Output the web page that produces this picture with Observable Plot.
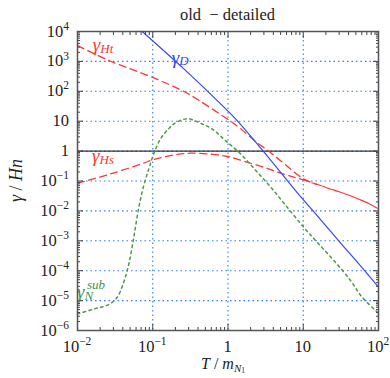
<!DOCTYPE html>
<html><head><meta charset="utf-8">
<script src="https://cdn.jsdelivr.net/npm/d3@7"></script>
<script src="https://cdn.jsdelivr.net/npm/@observablehq/plot@0.6"></script>
<style>body{margin:0;background:#fff} svg{display:block}</style>
</head><body><div id="chart"></div>
<script>
// ---- data ----
const dT = [0.0724, 0.259, 0.719, 1.26, 2.94, 7.89, 13.6, 29.6, 67.1, 100];
const dY = [1e4, 562, 49, 12.0, 1.0, 0.048, 0.0098, 0.001, 9.3e-5, 2.8e-5];

const htT = [0.01, 0.0261, 0.1, 0.272, 0.409, 1.08, 1.47, 2.44, 3.47, 4.99, 10.2, 15];
const htY = [3390, 1072, 290, 93, 50, 10, 5.6, 1.9, 1.0, 0.48, 0.115, 0.078];

const hT = [13, 17, 22, 30, 40, 55, 75, 100];
const hY = [0.087, 0.071, 0.056, 0.044, 0.034, 0.0245, 0.0174, 0.0117];

const hsT = [0.01, 0.0261, 0.0724, 0.103, 0.2, 0.316, 0.615, 1, 1.63, 2.99, 4.5, 7.48, 11.2];
const hsY = [0.085, 0.166, 0.38, 0.525, 0.76, 0.85, 0.78, 0.66, 0.457, 0.288, 0.20, 0.135, 0.102];

const nT = [0.01, 0.0173, 0.0261, 0.0337, 0.0412, 0.0481, 0.056, 0.0653, 0.076, 0.0887, 0.103, 0.127, 0.163, 0.19, 0.287, 0.454, 0.631, 0.927, 1.466, 2.44, 3.86, 6.12, 10.2, 15.3, 25.5, 42.5, 60.7, 100];
const nY = [3.6e-6, 5.4e-6, 7.4e-6, 1.29e-5, 4.2e-5, 1.7e-4, 1.32e-3, 0.0132, 0.071, 0.257, 0.81, 2.57, 5.6, 8.1, 12.0, 8.1, 5.25, 2.24, 0.81, 0.2, 0.055, 0.0132, 2.8e-3, 8.9e-4, 2.2e-4, 4.7e-5, 1.29e-5, 3.8e-6];

const xMajor = [0.01, 0.1, 1, 10, 100];
const yMajor = [1e-6, 1e-5, 1e-4, 1e-3, 1e-2, 1e-1, 1, 10, 100, 1e3, 1e4];
const xTickLabels = [["10","−2"],["10","−1"],["1",""],["10",""],["10","2"]];
const yTickLabels = [["10","−6"],["10","−5"],["10","−4"],["10","−3"],["10","−2"],["10","−1"],["1",""],["10",""],["10","2"],["10","3"],["10","4"]];

const title = "old  − detailed";

const RED = "#ff3535", BLUE = "#3a48f0", GREEN = "#4a9a44", GRID = "#2f7cf2";

const curveLabels = [
  {T: 0.0222, y: 2140, main: "γ", sub: "Ht", sup: "", color: RED},
  {T: 0.236, y: 800, main: "γ", sub: "D", sup: "", color: BLUE},
  {T: 0.0222, y: 0.40, main: "γ", sub: "Hs", sup: "", color: RED},
  {T: 0.0128, y: 1.2e-5, main: "γ", sub: "N", sup: "sub", color: "#3f8f55"}
];

// ---- build ----
const rows = (T, Y) => T.map((t, i) => ({T: t, v: Y[i]}));
function minors(lo, hi) {
  const out = [];
  for (let e = lo; e < hi; e++) for (let k = 2; k <= 9; k++) out.push(k * Math.pow(10, e));
  return out;
}
const xMinor = minors(-2, 2), yMinor = minors(-6, 4);

const axisOpts = {tickFormat: () => "", label: null, stroke: "#444"};
const CURVE = "catmull-rom";

const plot = Plot.plot({
  width: 390, height: 378,
  marginTop: 31, marginBottom: 48, marginLeft: 77, marginRight: 12,
  style: {background: "white", fontFamily: "Liberation Serif, serif"},
  x: {type: "log", domain: [1e-2, 1e2], axis: null},
  y: {type: "log", domain: [1e-6, 1e4], axis: null},
  marks: [
    Plot.gridX({ticks: xMajor, stroke: GRID, strokeOpacity: 1, strokeWidth: 1.1, strokeDasharray: "1.5,3"}),
    Plot.gridY({ticks: yMajor, stroke: GRID, strokeOpacity: 1, strokeWidth: 1.1, strokeDasharray: "1.5,3"}),
    Plot.ruleY([1], {stroke: "#333", strokeWidth: 1.2}),
    Plot.line(rows(hsT, hsY), {x: "T", y: "v", stroke: RED, strokeWidth: 1.3, strokeDasharray: "7,4.5", curve: CURVE}),
    Plot.line(rows(htT, htY), {x: "T", y: "v", stroke: RED, strokeWidth: 1.3, strokeDasharray: "7,4.5", curve: CURVE}),
    Plot.line(rows(hT, hY), {x: "T", y: "v", stroke: RED, strokeWidth: 1.1, curve: CURVE}),
    Plot.line(rows(nT, nY), {x: "T", y: "v", stroke: GREEN, strokeWidth: 1.5, strokeDasharray: "2.5,3.5", curve: CURVE}),
    Plot.line(rows(dT, dY), {x: "T", y: "v", stroke: BLUE, strokeWidth: 1.2, curve: CURVE}),
    Plot.axisX({ticks: xMajor, anchor: "bottom", tickSize: -6, ...axisOpts}),
    Plot.axisX({ticks: xMinor, anchor: "bottom", tickSize: -3, ...axisOpts}),
    Plot.axisX({ticks: xMajor, anchor: "top", tickSize: -6, ...axisOpts}),
    Plot.axisX({ticks: xMinor, anchor: "top", tickSize: -3, ...axisOpts}),
    Plot.axisY({ticks: yMajor, anchor: "left", tickSize: -6, ...axisOpts}),
    Plot.axisY({ticks: yMinor, anchor: "left", tickSize: -3, ...axisOpts}),
    Plot.axisY({ticks: yMajor, anchor: "right", tickSize: -6, ...axisOpts}),
    Plot.axisY({ticks: yMinor, anchor: "right", tickSize: -3, ...axisOpts}),
    Plot.frame({stroke: "#555", strokeWidth: 1.5})
  ]
});

const sx = plot.scale("x"), sy = plot.scale("y");
const svg = d3.select(plot);
const g = svg.append("g").attr("font-family", "Liberation Serif, serif").attr("fill", "#222");

function powLabel(x, y, lab, anchor) {
  const t = g.append("text").attr("x", x).attr("y", y).attr("text-anchor", anchor).attr("font-size", 16.5);
  t.append("tspan").text(lab[0]);
  if (lab[1]) t.append("tspan").attr("font-size", 11.5).attr("dy", "-0.6em").text(lab[1]);
}
yMajor.forEach((v, i) => powLabel(sx.apply(0.01) - 8, sy.apply(v) + 5.5, yTickLabels[i], "end"));
xMajor.forEach((v, i) => powLabel(sx.apply(v), 352, xTickLabels[i], "middle"));

// title
g.append("text").attr("x", (sx.apply(0.01) + sx.apply(100)) / 2).attr("y", 20)
  .attr("text-anchor", "middle").attr("font-size", 16.5).style("white-space", "pre").text(title);

// x label  T / m_{N_1}
{
  const t = g.append("text").attr("x", 223).attr("y", 369).attr("text-anchor", "middle").attr("font-size", 16);
  t.append("tspan").attr("font-style", "italic").text("T");
  t.append("tspan").text(" / ");
  t.append("tspan").attr("font-style", "italic").text("m");
  t.append("tspan").attr("font-style", "italic").attr("font-size", 11).attr("dy", "0.25em").text("N");
  t.append("tspan").attr("font-size", 7.5).attr("dy", "0.2em").text("1");
}
// y label  γ / Hn
{
  const cy = (sy.apply(1e-6) + sy.apply(1e4)) / 2;
  const t = g.append("text").attr("transform", `translate(22,${cy}) rotate(-90)`).attr("text-anchor", "middle").attr("font-size", 18);
  t.append("tspan").attr("font-style", "italic").text("γ");
  t.append("tspan").text(" / ");
  t.append("tspan").attr("font-style", "italic").text("Hn");
}
// curve labels
curveLabels.forEach(l => {
  const x = sx.apply(l.T), y = sy.apply(l.y);
  const t = g.append("text").attr("x", x).attr("y", y).attr("fill", l.color).attr("font-size", 19);
  t.append("tspan").attr("font-style", "italic").text(l.main);
  t.append("tspan").attr("font-style", "italic").attr("font-size", 13).attr("dy", l.sup ? "0.2em" : "0.12em").text(l.sub);
  if (l.sup) {
    g.append("text").attr("x", x + 11).attr("y", y - 9).attr("fill", l.color)
      .attr("font-size", 13).attr("font-style", "italic").text(l.sup);
  }
});

document.getElementById("chart").appendChild(plot);
</script>
</body></html>
